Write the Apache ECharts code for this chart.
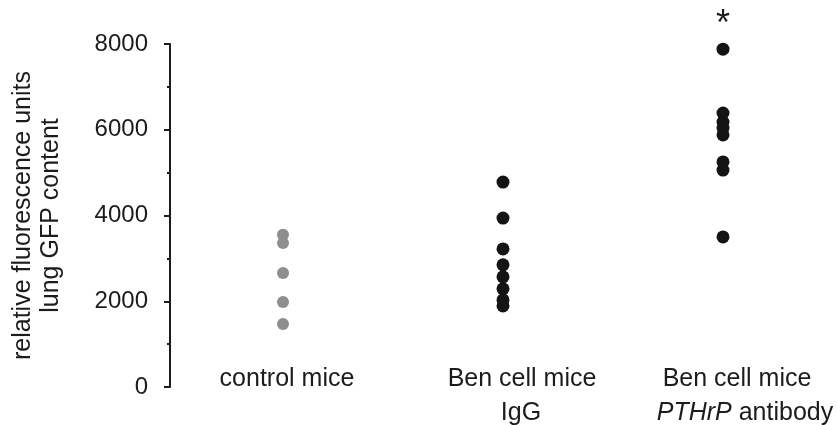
<!DOCTYPE html>
<html>
<head>
<meta charset="utf-8">
<script src="https://cdn.jsdelivr.net/npm/echarts@6/dist/echarts.min.js"></script>
<style>
  html, body { margin: 0; padding: 0; background: #fff; }
  #chart { width: 837px; height: 425px; }
</style>
</head>
<body>
<div id="chart"></div>
<script>
// Group names (first line / second line of each x label)
const groupTitles = ['control mice', 'Ben cell mice', 'Ben cell mice'];
const groupSubtitles = ['', 'IgG', 'PTHrP antibody'];

// Lung GFP content, relative fluorescence units, one value per mouse
const controlValues = [3550, 3360, 2660, 1980, 1470];
const igGValues = [4780, 3940, 3220, 2850, 2570, 2290, 2030, 1890];
const pthrpValues = [7880, 6390, 6180, 6040, 5880, 5250, 5060, 3500];

// y axis ticks
const yMin = 0;
const yMax = 8000;
const yStep = 2000;

const FONT = '"Liberation Sans", Arial, Helvetica, sans-serif';
const INK = '#1c1c1c';
const LABEL_SIZE = 25;

const chart = echarts.init(document.getElementById('chart'), null, { renderer: 'canvas' });

function points(groupIndex, values) {
  return values.map(v => [groupIndex, v]);
}

function richStyle(extra) {
  return Object.assign({ fontSize: LABEL_SIZE, color: INK, fontFamily: FONT, lineHeight: 34 }, extra);
}

const maxPthrp = Math.max(...pthrpValues);

chart.setOption({
  animation: false,
  backgroundColor: '#ffffff',
  textStyle: { fontFamily: FONT },
  grid: { left: 173, right: 4, top: 44, bottom: 38, containLabel: false, outerBoundsMode: 'none' },
  xAxis: {
    type: 'category',
    data: groupTitles.map((t, i) => i),
    boundaryGap: true,
    axisLine: { show: false },
    axisTick: { show: false },
    splitLine: { show: false },
    axisLabel: {
      interval: 0,
      margin: -25,
      fontFamily: FONT,
      fontSize: LABEL_SIZE,
      color: INK,
      lineHeight: 34,
      formatter: function (value) {
        const i = Number(value);
        if (i === 0) return '{c0|' + groupTitles[0] + '}';
        if (i === 1) return '{t1|' + groupTitles[1] + '}\n{s1|' + groupSubtitles[1] + '}';
        const sub = groupSubtitles[2].split(' ');
        return '{t2|' + groupTitles[2] + '}\n{it|' + sub[0] + '}{s2| ' + sub.slice(1).join(' ') + '}';
      },
      rich: {
        c0: richStyle({ padding: [0, 0, 0, 8] }),
        t1: richStyle({ padding: [0, 0, 0, 38] }),
        s1: richStyle({ padding: [0, 0, 0, 36] }),
        t2: richStyle({ padding: [0, 0, 0, 28] }),
        it: richStyle({ fontStyle: 'italic', padding: [0, 0, 0, 44] }),
        s2: richStyle({})
      }
    }
  },
  yAxis: {
    type: 'value',
    min: yMin,
    max: yMax,
    interval: yStep,
    offset: 3,
    name: 'relative fluorescence units\nlung GFP content',
    nameLocation: 'middle',
    nameGap: 105,
    nameRotate: 90,
    nameTextStyle: { fontFamily: FONT, fontSize: LABEL_SIZE, color: INK, lineHeight: 28 },
    axisLine: { show: true, lineStyle: { color: INK, width: 2 } },
    axisTick: { show: true, length: 6, lineStyle: { color: INK, width: 2 } },
    minorTick: { show: true, splitNumber: 2, length: 3, lineStyle: { color: INK, width: 2 } },
    splitLine: { show: false },
    axisLabel: {
      margin: 22,
      fontFamily: FONT,
      fontSize: 24,
      color: INK,
      formatter: v => String(v)
    }
  },
  series: [
    {
      name: 'control mice',
      type: 'scatter',
      symbol: 'circle',
      symbolSize: 12,
      itemStyle: { color: '#8e8e8e', opacity: 1 },
      data: points(0, controlValues)
    },
    {
      name: 'Ben cell mice IgG',
      type: 'scatter',
      symbol: 'circle',
      symbolSize: 13,
      itemStyle: { color: '#141414', opacity: 1 },
      data: points(1, igGValues)
    },
    {
      name: 'Ben cell mice PTHrP antibody',
      type: 'scatter',
      symbol: 'circle',
      symbolSize: 13,
      itemStyle: { color: '#141414', opacity: 1 },
      data: points(2, pthrpValues).map(p => p[1] === maxPthrp ? {
        value: p,
        label: {
          show: true,
          position: 'top',
          distance: 0,
          formatter: '*',
          fontFamily: FONT,
          fontSize: 36,
          color: INK
        }
      } : p)
    }
  ]
});
</script>
</body>
</html>
